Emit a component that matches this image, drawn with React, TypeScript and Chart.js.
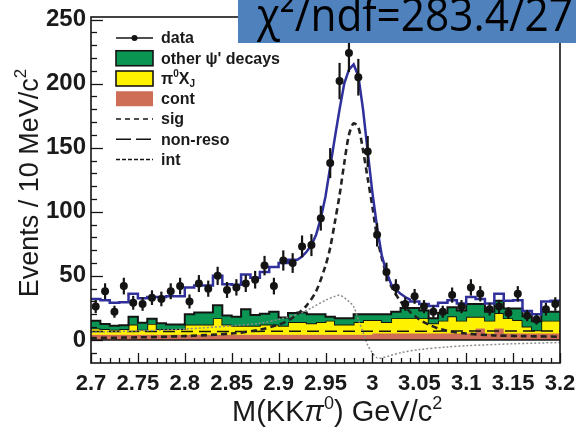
import React, { useEffect, useRef } from 'react';
import { Chart, registerables } from 'chart.js';

Chart.register(...registerables);

// 10 MeV/c² bins over 2.70 – 3.20 GeV/c² (bin centres)
const massBins = [
  2.705, 2.715, 2.725, 2.735, 2.745, 2.755, 2.765, 2.775, 2.785, 2.795,
  2.805, 2.815, 2.825, 2.835, 2.845, 2.855, 2.865, 2.875, 2.885, 2.895,
  2.905, 2.915, 2.925, 2.935, 2.945, 2.955, 2.965, 2.975, 2.985, 2.995,
  3.005, 3.015, 3.025, 3.035, 3.045, 3.055, 3.065, 3.075, 3.085, 3.095,
  3.105, 3.115, 3.125, 3.135, 3.145, 3.155, 3.165, 3.175, 3.185, 3.195,
];
const binWidth = 0.01;

// observed events per bin and their errors
const dataEvents = [
  26, 38, 22, 42, 29, 28, 33, 32, 38, 42,
  30, 44, 40, 50, 39, 41, 44, 47, 58, 42,
  62, 60, 73, 74, 95, 138, 202, 224, 205, 147,
  82, 53, 41, 28, 34, 26, 22, 22, 35, 26,
  41, 36, 24, 26, 21, 36, 19, 16, 24, 28,
];
const dataErrors = [
  5.1, 6.2, 4.7, 6.5, 5.4, 5.3, 5.7, 5.7, 6.2, 6.5,
  5.5, 6.6, 6.3, 7.1, 6.2, 6.4, 6.6, 6.9, 7.6, 6.5,
  7.9, 7.7, 8.5, 8.6, 9.7, 11.7, 14.2, 15.0, 14.3, 12.1,
  9.1, 7.3, 6.4, 5.3, 5.8, 5.1, 4.7, 4.7, 5.9, 5.1,
  6.4, 6.0, 4.9, 5.1, 4.6, 6.0, 4.4, 4.0, 4.9, 5.3,
];

// stacked background components (events per bin)
const contEvents = [
  4, 4, 4, 4, 4, 4, 4, 4, 4, 4,
  4, 4, 4, 4, 4, 4, 4, 4, 4, 4,
  4, 4, 4, 4, 4, 4, 4, 4, 4, 4,
  5, 5, 5, 5, 5, 5, 5, 5, 5, 5,
  5, 9, 5, 9, 5, 5, 5, 5, 5, 5,
];
const pi0XjEvents = [
  5, 4.5, 4, 4.5, 8, 4, 8.5, 4.5, 4.5, 4.5,
  8, 8, 8, 13, 8, 7, 7, 7, 8, 8,
  7, 10, 10, 9, 10, 11, 8, 8, 10, 11.5,
  10.5, 9, 12, 12, 12, 12, 8, 10, 13.5, 10,
  13, 9, 10, 12, 12, 10.5, 5.5, 2.5, 10, 10,
];
const otherPsiEvents = [
  6, 4, 3, 3, 6, 5.5, 4, 4.5, 3.5, 3.5,
  8, 9.5, 9.5, 10, 7, 7, 13, 8.5, 8.5, 10,
  6.5, 7, 7.5, 7, 6, 3, 5, 5, 6, 4.5,
  4.5, 6, 5, 8, 8, 6, 4, 6, 7, 8,
  10, 10, 7, 9.5, 7.5, 9, 8, 7, 7, 7,
];

// total fit: binned below 2.92, smooth through the peak, binned above 3.04
const totalFitLow = [
  32, 31, 29, 29.5, 36, 32.5, 33.5, 33.5, 34, 34,
  41, 42.5, 42.5, 50, 43.5, 43, 51, 48.5, 53, 57,
  60, 62.5,
];
const totalFitPeakMass = [
  2.92, 2.925, 2.93, 2.935, 2.94, 2.945, 2.95, 2.955, 2.96, 2.965,
  2.97, 2.975, 2.98, 2.985, 2.99, 2.995, 3.0, 3.005, 3.01, 3.015,
  3.02, 3.025, 3.03, 3.035, 3.04,
];
const totalFitPeakEvents = [
  62.5, 65, 69, 74, 82, 95, 112, 135, 158, 180,
  200, 211, 215, 206, 180, 147, 115, 88, 66, 53,
  43.5, 39, 36, 33.5, 31.5,
];
const totalFitHighFirstBin = 34;
const totalFitHigh = [
  30, 28, 26.5, 29, 31, 28.5, 33.5, 32, 28.5, 36,
  30.5, 31, 22.5, 20, 30, 30.5,
];

// signal shape
const sigMass = [
  2.70, 2.75, 2.80, 2.85, 2.88, 2.90, 2.91, 2.92, 2.93, 2.94,
  2.95, 2.955, 2.96, 2.965, 2.97, 2.975, 2.98, 2.985, 2.99, 2.995,
  3.00, 3.005, 3.01, 3.015, 3.02, 3.03, 3.04, 3.05, 3.06, 3.07,
  3.08, 3.10, 3.13, 3.16, 3.20,
];
const sigEvents = [
  1.5, 2, 3, 5, 8, 12, 15, 20, 27, 38,
  58, 72, 92, 113, 138, 160, 169, 166, 148, 126,
  104, 80, 64, 51, 42, 30, 22, 16, 12, 9,
  7, 5, 3.5, 3, 2.5,
];

// interference term
const intMass = [
  2.70, 2.75, 2.80, 2.85, 2.88, 2.90, 2.92, 2.935, 2.95, 2.96,
  2.965, 2.97, 2.975, 2.98, 2.985, 2.99, 2.995, 3.00, 3.005, 3.01,
  3.02, 3.03, 3.05, 3.08, 3.10, 3.15, 3.20,
];
const intEvents = [
  6, 7, 8.5, 11, 13, 16, 20, 25, 31, 34,
  35, 33, 30, 26, 16, 6, -4, -10, -14, -14,
  -12, -10, -7.5, -5.5, -4.5, -3, -2,
];

// non-resonant component
const nonResoMass = [2.70, 3.20];
const nonResoEvents = [6.5, 7];

const xTickStep = 0.05;
const yTickStep = 50;

const bannerText = 'χ²/ndf=283.4/27';

const COLORS = {
  other: '#0a9552',
  pi0: '#fff200',
  cont: '#cf6e56',
  fit: '#30309c',
  ink: '#141414',
  intLine: '#8c8c8c',
  banner: '#4f81bd',
};

const FONT = '"Liberation Sans", Arial, Helvetica, sans-serif';

type Pt = { x: number; y: number };

function histogramPoints(firstBin: number, values: number[]): Pt[] {
  const pts: Pt[] = [];
  values.forEach((v, k) => {
    const c = massBins[firstBin + k];
    pts.push({ x: c - binWidth / 2, y: v }, { x: c + binWidth / 2, y: v });
  });
  return pts;
}

function curvePoints(xs: number[], ys: number[]): Pt[] {
  return xs.map((x, i) => ({ x, y: ys[i] }));
}

type Part = { t: string; size: number; dy?: number; style?: string };

function richWidth(ctx: CanvasRenderingContext2D, parts: Part[], weight: string) {
  let w = 0;
  for (const p of parts) {
    ctx.font = `${p.style || ''} ${weight} ${p.size}px ${FONT}`;
    w += ctx.measureText(p.t).width;
  }
  return w;
}

function drawRich(ctx: CanvasRenderingContext2D, parts: Part[], x: number, y: number, weight: string) {
  let cx = x;
  for (const p of parts) {
    ctx.font = `${p.style || ''} ${weight} ${p.size}px ${FONT}`;
    ctx.fillText(p.t, cx, y + (p.dy || 0));
    cx += ctx.measureText(p.t).width;
  }
}

const overlayPlugin = {
  id: 'overlay',
  afterDatasetsDraw(chart: any) {
    const ctx: CanvasRenderingContext2D = chart.ctx;
    const xs = chart.scales.x;
    const ys = chart.scales.y;
    const { left, right, top, bottom } = chart.chartArea;
    ctx.save();
    ctx.beginPath();
    ctx.rect(left, top, right - left, bottom - top);
    ctx.clip();
    // zero line
    ctx.strokeStyle = COLORS.ink;
    ctx.lineWidth = 1.5;
    const y0 = ys.getPixelForValue(0);
    ctx.beginPath();
    ctx.moveTo(left, y0);
    ctx.lineTo(right, y0);
    ctx.stroke();
    // error bars
    ctx.lineWidth = 2.2;
    dataEvents.forEach((v, i) => {
      const px = xs.getPixelForValue(massBins[i]);
      ctx.beginPath();
      ctx.moveTo(px, ys.getPixelForValue(v + dataErrors[i]));
      ctx.lineTo(px, ys.getPixelForValue(v - dataErrors[i]));
      ctx.stroke();
    });
    ctx.restore();
  },
  afterDraw(chart: any) {
    const ctx: CanvasRenderingContext2D = chart.ctx;
    const xs = chart.scales.x;
    const ys = chart.scales.y;
    const { left, right, top, bottom } = chart.chartArea;
    ctx.save();

    // inner tick marks
    ctx.strokeStyle = COLORS.ink;
    ctx.lineWidth = 1.3;
    for (let i = 0; i <= 50; i++) {
      const px = Math.round(xs.getPixelForValue(2.7 + i * 0.01)) + 0.5;
      const len = i % 5 === 0 ? 10 : 5;
      ctx.beginPath();
      ctx.moveTo(px, bottom);
      ctx.lineTo(px, bottom - len);
      ctx.stroke();
    }
    for (let v = -10; v <= 250; v += 10) {
      const py = Math.round(ys.getPixelForValue(v)) + 0.5;
      const len = v % 50 === 0 ? 12 : 6;
      ctx.beginPath();
      ctx.moveTo(left, py);
      ctx.lineTo(left + len, py);
      ctx.stroke();
    }

    // frame
    ctx.lineWidth = 1.6;
    ctx.strokeRect(left, top, right - left, bottom - top);

    // axis titles
    ctx.fillStyle = '#1a1a1a';
    ctx.textBaseline = 'alphabetic';
    ctx.textAlign = 'left';
    const xTitle: Part[] = [
      { t: 'M(KK', size: 29 },
      { t: 'π', size: 29, style: 'italic' },
      { t: '0', size: 18, dy: -12 },
      { t: ') GeV/c', size: 29 },
      { t: '2', size: 18, dy: -12 },
    ];
    drawRich(ctx, xTitle, 232, 421, 'normal');

    const yTitle: Part[] = [
      { t: 'Events / 10 MeV/c', size: 27 },
      { t: '2', size: 17, dy: -12 },
    ];
    const yw = richWidth(ctx, yTitle, 'normal');
    ctx.save();
    ctx.translate(38, 183);
    ctx.rotate(-Math.PI / 2);
    drawRich(ctx, yTitle, -yw / 2, 0, 'normal');
    ctx.restore();

    // legend
    const lx0 = 116;
    const lx1 = 153;
    const tx = 161;
    const row0 = 38;
    const dy = 20.25;
    ctx.fillStyle = '#1a1a1a';
    ctx.textBaseline = 'middle';
    const label = (t: string, r: number) => {
      ctx.font = `bold 16px ${FONT}`;
      ctx.fillText(t, tx, row0 + r * dy + 1);
    };
    // data
    ctx.strokeStyle = COLORS.ink;
    ctx.lineWidth = 1.5;
    ctx.beginPath();
    ctx.moveTo(lx0, row0);
    ctx.lineTo(lx1, row0);
    ctx.stroke();
    ctx.beginPath();
    ctx.arc((lx0 + lx1) / 2, row0, 3, 0, Math.PI * 2);
    ctx.fillStyle = COLORS.ink;
    ctx.fill();
    ctx.fillStyle = '#1a1a1a';
    label('data', 0);
    // boxes
    const box = (r: number, fill: string, stroke: boolean) => {
      const yc = row0 + r * dy;
      ctx.fillStyle = fill;
      ctx.fillRect(lx0, yc - 7.5, lx1 - lx0, 15);
      if (stroke) {
        ctx.strokeStyle = COLORS.ink;
        ctx.lineWidth = 1.6;
        ctx.strokeRect(lx0, yc - 7.5, lx1 - lx0, 15);
      }
      ctx.fillStyle = '#1a1a1a';
    };
    box(1, COLORS.other, true);
    label("other ψ' decays", 1);
    box(2, COLORS.pi0, true);
    drawRich(
      ctx,
      [
        { t: 'π', size: 16 },
        { t: '0', size: 10, dy: -5 },
        { t: 'X', size: 16 },
        { t: 'J', size: 10, dy: 5 },
      ],
      tx,
      row0 + 2 * dy + 1,
      'bold'
    );
    box(3, COLORS.cont, false);
    label('cont', 3);
    const dashed = (r: number, dash: number[], width: number) => {
      const yc = row0 + r * dy;
      ctx.strokeStyle = COLORS.ink;
      ctx.lineWidth = width;
      ctx.setLineDash(dash);
      ctx.beginPath();
      ctx.moveTo(lx0, yc);
      ctx.lineTo(lx1, yc);
      ctx.stroke();
      ctx.setLineDash([]);
    };
    dashed(4, [5, 4], 1.5);
    label('sig', 4);
    dashed(5, [15, 5], 1.5);
    label('non-reso', 5);
    dashed(6, [4, 2], 1.3);
    label('int', 6);

    // fit-quality banner, text narrowed to sit inside the box
    ctx.fillStyle = COLORS.banner;
    ctx.fillRect(238, 0, 576 - 238, 43);
    ctx.fillStyle = '#000';
    ctx.textBaseline = 'alphabetic';
    ctx.font = `46px "Open Sans", "Noto Sans", sans-serif`;
    const bx = 257;
    const bw = ctx.measureText(bannerText).width;
    const squeeze = Math.min(1, (573 - bx) / bw);
    ctx.save();
    ctx.translate(bx, 31);
    ctx.scale(squeeze, 1);
    ctx.fillText(bannerText, 0, 0);
    ctx.restore();

    ctx.restore();
  },
};

export default function App() {
  const canvasRef = useRef<HTMLCanvasElement>(null);

  useEffect(() => {
    document.body.style.margin = '0';
    const canvas = canvasRef.current;
    if (!canvas) return;

    const pi0Top = contEvents.map((c, i) => c + pi0XjEvents[i]);
    const otherTop = pi0Top.map((t, i) => t + otherPsiEvents[i]);
    const totalFit = [
      ...histogramPoints(0, totalFitLow),
      ...curvePoints(totalFitPeakMass, totalFitPeakEvents),
      ...histogramPoints(totalFitHighFirstBin, totalFitHigh),
    ];

    const chart = new Chart(canvas, {
      type: 'line',
      data: {
        datasets: [
          {
            label: 'cont',
            data: histogramPoints(0, contEvents),
            borderColor: COLORS.cont,
            borderWidth: 1,
            backgroundColor: COLORS.cont,
            fill: 'origin',
            pointRadius: 0,
            order: 8,
          },
          {
            label: 'π0XJ',
            data: histogramPoints(0, pi0Top),
            borderColor: COLORS.ink,
            borderWidth: 1.8,
            backgroundColor: COLORS.pi0,
            fill: '-1',
            pointRadius: 0,
            order: 7,
          },
          {
            label: "other ψ' decays",
            data: histogramPoints(0, otherTop),
            borderColor: COLORS.ink,
            borderWidth: 2,
            backgroundColor: COLORS.other,
            fill: '-1',
            pointRadius: 0,
            order: 6,
          },
          {
            label: 'non-reso',
            data: curvePoints(nonResoMass, nonResoEvents),
            borderColor: COLORS.ink,
            borderWidth: 1.5,
            borderDash: [12, 6],
            fill: false,
            pointRadius: 0,
            order: 5,
          },
          {
            label: 'int',
            data: curvePoints(intMass, intEvents),
            borderColor: COLORS.intLine,
            borderWidth: 1.5,
            borderDash: [2, 2],
            fill: false,
            pointRadius: 0,
            tension: 0.3,
            order: 4,
          },
          {
            label: 'sig',
            data: curvePoints(sigMass, sigEvents),
            borderColor: '#222',
            borderWidth: 2.6,
            borderDash: [6, 4],
            fill: false,
            pointRadius: 0,
            tension: 0.3,
            order: 3,
          },
          {
            label: 'fit',
            data: totalFit,
            borderColor: COLORS.fit,
            borderWidth: 2.5,
            fill: false,
            pointRadius: 0,
            order: 2,
          },
          {
            label: 'data',
            data: curvePoints(massBins, dataEvents),
            showLine: false,
            pointRadius: 4,
            pointBackgroundColor: COLORS.ink,
            pointBorderWidth: 0,
            order: 1,
          },
        ],
      },
      options: {
        responsive: false,
        animation: false,
        devicePixelRatio: 1,
        events: [],
        layout: { padding: { top: 17, right: 16, left: 0, bottom: 0 } },
        plugins: {
          legend: { display: false },
          tooltip: { enabled: false },
        },
        scales: {
          x: {
            type: 'linear',
            min: 2.7,
            max: 3.2,
            grid: { display: false, drawTicks: false },
            border: { display: false },
            ticks: {
              stepSize: xTickStep,
              autoSkip: false,
              maxRotation: 0,
              minRotation: 0,
              padding: 8,
              color: '#1a1a1a',
              font: { family: FONT, size: 22, weight: 'bold' },
              callback: (v: any) => String(Math.round(Number(v) * 100) / 100),
            },
            afterFit: (scale: any) => {
              scale.height = 67;
              scale.paddingLeft = 0;
              scale.paddingRight = 0;
            },
          },
          y: {
            type: 'linear',
            min: -18,
            max: 252,
            grid: { display: false, drawTicks: false },
            border: { display: false },
            ticks: {
              stepSize: yTickStep,
              includeBounds: false,
              padding: 5,
              color: '#1a1a1a',
              font: { family: FONT, size: 24, weight: 'bold' },
            },
            afterFit: (scale: any) => {
              scale.width = 91;
              scale.paddingTop = 0;
              scale.paddingBottom = 0;
            },
          },
        },
      },
      plugins: [overlayPlugin],
    } as any);

    return () => chart.destroy();
  }, []);

  return (
    <div style={{ position: 'absolute', left: 0, top: 0, width: 576, height: 430, background: '#fff' }}>
      <canvas ref={canvasRef} width={576} height={430} style={{ display: 'block', width: 576, height: 430 }} />
    </div>
  );
}
